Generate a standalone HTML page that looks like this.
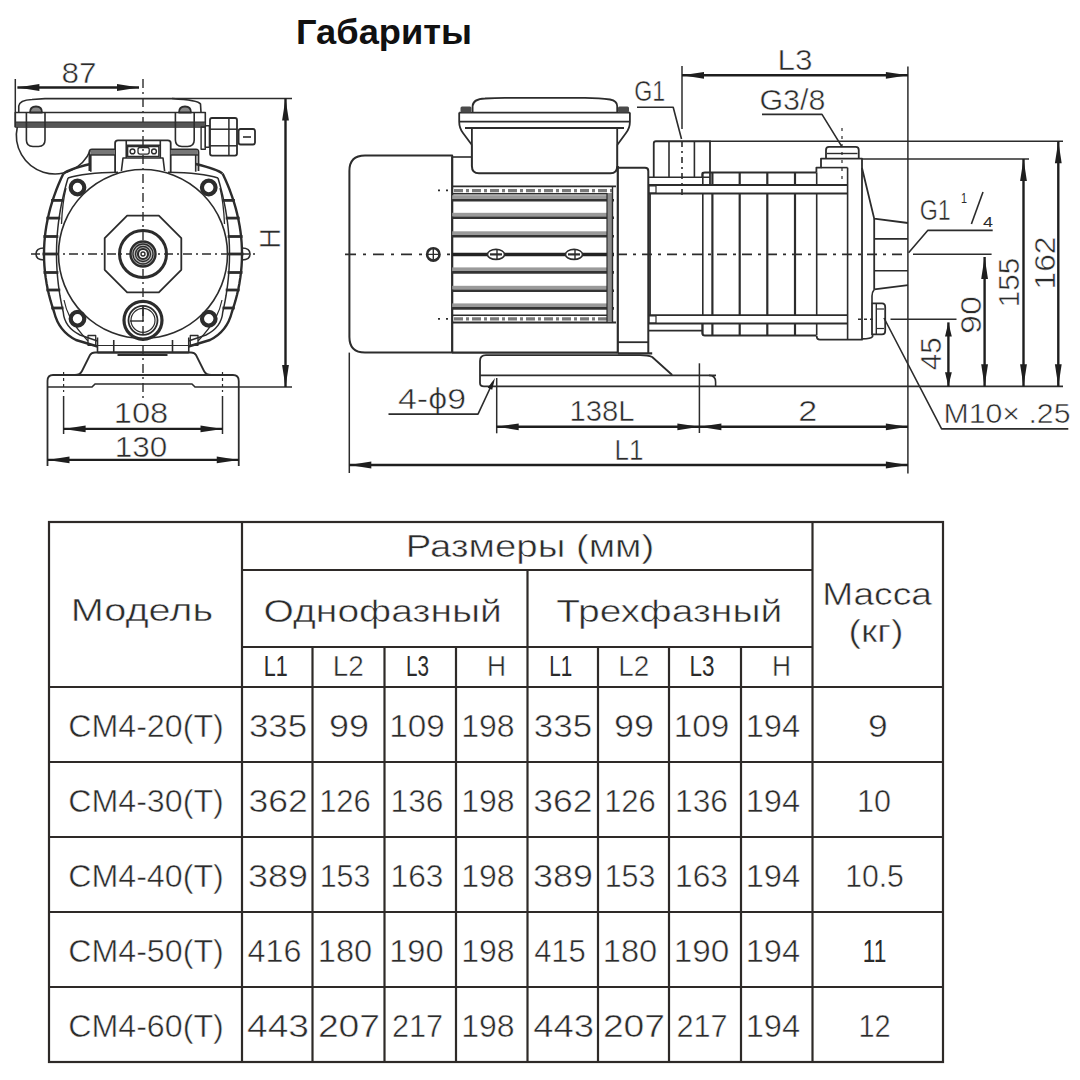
<!DOCTYPE html>
<html><head><meta charset="utf-8"><style>
html,body{margin:0;padding:0;background:#fff;}
svg{display:block;font-family:"Liberation Sans",sans-serif;}
text{stroke:#fff;stroke-width:0.5px;}
text.b{stroke:none;}
</style></head><body>
<svg width="1080" height="1080" viewBox="0 0 1080 1080">
<rect width="1080" height="1080" fill="#fff"/>
<text x="384" y="43.8" font-size="35" text-anchor="middle" fill="#111" font-weight="bold" textLength="176" lengthAdjust="spacingAndGlyphs" class="b">Габариты</text>
<rect x="49" y="522" width="894" height="540" rx="0" stroke="#2e2a28" stroke-width="2.2" fill="none"/>
<line x1="49" y1="762" x2="943" y2="762" stroke="#2e2a28" stroke-width="2.2" />
<line x1="49" y1="837" x2="943" y2="837" stroke="#2e2a28" stroke-width="2.2" />
<line x1="49" y1="912" x2="943" y2="912" stroke="#2e2a28" stroke-width="2.2" />
<line x1="49" y1="987" x2="943" y2="987" stroke="#2e2a28" stroke-width="2.2" />
<line x1="49" y1="687" x2="943" y2="687" stroke="#2e2a28" stroke-width="2.2" />
<line x1="242" y1="570" x2="812.5" y2="570" stroke="#2e2a28" stroke-width="2.2" />
<line x1="242" y1="647" x2="812.5" y2="647" stroke="#2e2a28" stroke-width="2.2" />
<line x1="242" y1="522" x2="242" y2="1062" stroke="#2e2a28" stroke-width="2.2" />
<line x1="812.5" y1="522" x2="812.5" y2="1062" stroke="#2e2a28" stroke-width="2.2" />
<line x1="527.5" y1="570" x2="527.5" y2="1062" stroke="#2e2a28" stroke-width="2.2" />
<line x1="312.5" y1="647" x2="312.5" y2="1062" stroke="#2e2a28" stroke-width="2.2" />
<line x1="384.5" y1="647" x2="384.5" y2="1062" stroke="#2e2a28" stroke-width="2.2" />
<line x1="456" y1="647" x2="456" y2="1062" stroke="#2e2a28" stroke-width="2.2" />
<line x1="598" y1="647" x2="598" y2="1062" stroke="#2e2a28" stroke-width="2.2" />
<line x1="669" y1="647" x2="669" y2="1062" stroke="#2e2a28" stroke-width="2.2" />
<line x1="741" y1="647" x2="741" y2="1062" stroke="#2e2a28" stroke-width="2.2" />
<text x="530" y="556.6" font-size="30.5" text-anchor="middle" fill="#2b2b2b" font-weight="normal" textLength="248.5" lengthAdjust="spacingAndGlyphs" >Размеры (мм)</text>
<text x="142" y="621.3" font-size="30.5" text-anchor="middle" fill="#2b2b2b" font-weight="normal" textLength="142.4" lengthAdjust="spacingAndGlyphs" >Модель</text>
<text x="382.7" y="621.5" font-size="30.5" text-anchor="middle" fill="#2b2b2b" font-weight="normal" textLength="238.4" lengthAdjust="spacingAndGlyphs" >Однофазный</text>
<text x="669.3" y="621.5" font-size="30.5" text-anchor="middle" fill="#2b2b2b" font-weight="normal" textLength="226" lengthAdjust="spacingAndGlyphs" >Трехфазный</text>
<text x="877" y="605" font-size="30.5" text-anchor="middle" fill="#2b2b2b" font-weight="normal" textLength="109.7" lengthAdjust="spacingAndGlyphs" >Масса</text>
<text x="876" y="641.5" font-size="30.5" text-anchor="middle" fill="#2b2b2b" font-weight="normal" textLength="55" lengthAdjust="spacingAndGlyphs" >(кг)</text>
<text x="275.7" y="676.1" font-size="29.5" text-anchor="middle" fill="#2b2b2b" font-weight="normal" textLength="24" lengthAdjust="spacingAndGlyphs" class="b">L1</text>
<text x="348.3" y="676.1" font-size="29.5" text-anchor="middle" fill="#2b2b2b" font-weight="normal" textLength="31" lengthAdjust="spacingAndGlyphs" >L2</text>
<text x="417.5" y="676.1" font-size="29.5" text-anchor="middle" fill="#2b2b2b" font-weight="normal" textLength="23" lengthAdjust="spacingAndGlyphs" class="b">L3</text>
<text x="496.6" y="676.1" font-size="29.5" text-anchor="middle" fill="#2b2b2b" font-weight="normal" textLength="19" lengthAdjust="spacingAndGlyphs" >H</text>
<text x="560.7" y="676.1" font-size="29.5" text-anchor="middle" fill="#2b2b2b" font-weight="normal" textLength="23" lengthAdjust="spacingAndGlyphs" class="b">L1</text>
<text x="633.7" y="676.1" font-size="29.5" text-anchor="middle" fill="#2b2b2b" font-weight="normal" textLength="31" lengthAdjust="spacingAndGlyphs" >L2</text>
<text x="702" y="676.1" font-size="29.5" text-anchor="middle" fill="#2b2b2b" font-weight="normal" textLength="25" lengthAdjust="spacingAndGlyphs" class="b">L3</text>
<text x="781.6" y="676.1" font-size="29.5" text-anchor="middle" fill="#2b2b2b" font-weight="normal" textLength="19" lengthAdjust="spacingAndGlyphs" >H</text>
<text x="145.97" y="737.3" font-size="31" text-anchor="middle" fill="#2b2b2b" font-weight="normal" textLength="155.69" lengthAdjust="spacingAndGlyphs" >CM4-20(T)</text>
<text x="278.03" y="737.3" font-size="31" text-anchor="middle" fill="#2b2b2b" font-weight="normal" textLength="58.2" lengthAdjust="spacingAndGlyphs" >335</text>
<text x="349.0" y="737.3" font-size="31" text-anchor="middle" fill="#2b2b2b" font-weight="normal" textLength="40.05" lengthAdjust="spacingAndGlyphs" >99</text>
<text x="416.98" y="737.3" font-size="31" text-anchor="middle" fill="#2b2b2b" font-weight="normal" textLength="55.59" lengthAdjust="spacingAndGlyphs" >109</text>
<text x="487.98" y="737.3" font-size="31" text-anchor="middle" fill="#2b2b2b" font-weight="normal" textLength="53.39" lengthAdjust="spacingAndGlyphs" >198</text>
<text x="562.97" y="737.3" font-size="31" text-anchor="middle" fill="#2b2b2b" font-weight="normal" textLength="58.2" lengthAdjust="spacingAndGlyphs" >335</text>
<text x="634.0" y="737.3" font-size="31" text-anchor="middle" fill="#2b2b2b" font-weight="normal" textLength="40.05" lengthAdjust="spacingAndGlyphs" >99</text>
<text x="701.46" y="737.3" font-size="31" text-anchor="middle" fill="#2b2b2b" font-weight="normal" textLength="55.59" lengthAdjust="spacingAndGlyphs" >109</text>
<text x="772.96" y="737.3" font-size="31" text-anchor="middle" fill="#2b2b2b" font-weight="normal" textLength="54.49" lengthAdjust="spacingAndGlyphs" >194</text>
<text x="877.96" y="737.3" font-size="31" text-anchor="middle" fill="#2b2b2b" font-weight="normal" textLength="19.71" lengthAdjust="spacingAndGlyphs" >9</text>
<text x="145.97" y="812.3" font-size="31" text-anchor="middle" fill="#2b2b2b" font-weight="normal" textLength="155.69" lengthAdjust="spacingAndGlyphs" >CM4-30(T)</text>
<text x="278.04" y="812.3" font-size="31" text-anchor="middle" fill="#2b2b2b" font-weight="normal" textLength="59.28" lengthAdjust="spacingAndGlyphs" >362</text>
<text x="345.0" y="812.3" font-size="31" text-anchor="middle" fill="#2b2b2b" font-weight="normal" textLength="51.73" lengthAdjust="spacingAndGlyphs" >126</text>
<text x="416.99" y="812.3" font-size="31" text-anchor="middle" fill="#2b2b2b" font-weight="normal" textLength="52.84" lengthAdjust="spacingAndGlyphs" >136</text>
<text x="487.98" y="812.3" font-size="31" text-anchor="middle" fill="#2b2b2b" font-weight="normal" textLength="53.39" lengthAdjust="spacingAndGlyphs" >198</text>
<text x="562.96" y="812.3" font-size="31" text-anchor="middle" fill="#2b2b2b" font-weight="normal" textLength="59.28" lengthAdjust="spacingAndGlyphs" >362</text>
<text x="630.0" y="812.3" font-size="31" text-anchor="middle" fill="#2b2b2b" font-weight="normal" textLength="51.73" lengthAdjust="spacingAndGlyphs" >126</text>
<text x="701.49" y="812.3" font-size="31" text-anchor="middle" fill="#2b2b2b" font-weight="normal" textLength="52.84" lengthAdjust="spacingAndGlyphs" >136</text>
<text x="772.96" y="812.3" font-size="31" text-anchor="middle" fill="#2b2b2b" font-weight="normal" textLength="54.49" lengthAdjust="spacingAndGlyphs" >194</text>
<text x="874.01" y="812.3" font-size="31" text-anchor="middle" fill="#2b2b2b" font-weight="normal" textLength="33.93" lengthAdjust="spacingAndGlyphs" >10</text>
<text x="145.97" y="887.3" font-size="31" text-anchor="middle" fill="#2b2b2b" font-weight="normal" textLength="155.69" lengthAdjust="spacingAndGlyphs" >CM4-40(T)</text>
<text x="278.04" y="887.3" font-size="31" text-anchor="middle" fill="#2b2b2b" font-weight="normal" textLength="59.82" lengthAdjust="spacingAndGlyphs" >389</text>
<text x="345.01" y="887.3" font-size="31" text-anchor="middle" fill="#2b2b2b" font-weight="normal" textLength="50.66" lengthAdjust="spacingAndGlyphs" >153</text>
<text x="416.99" y="887.3" font-size="31" text-anchor="middle" fill="#2b2b2b" font-weight="normal" textLength="52.84" lengthAdjust="spacingAndGlyphs" >163</text>
<text x="487.98" y="887.3" font-size="31" text-anchor="middle" fill="#2b2b2b" font-weight="normal" textLength="53.39" lengthAdjust="spacingAndGlyphs" >198</text>
<text x="562.96" y="887.3" font-size="31" text-anchor="middle" fill="#2b2b2b" font-weight="normal" textLength="59.82" lengthAdjust="spacingAndGlyphs" >389</text>
<text x="630.01" y="887.3" font-size="31" text-anchor="middle" fill="#2b2b2b" font-weight="normal" textLength="50.66" lengthAdjust="spacingAndGlyphs" >153</text>
<text x="701.49" y="887.3" font-size="31" text-anchor="middle" fill="#2b2b2b" font-weight="normal" textLength="52.84" lengthAdjust="spacingAndGlyphs" >163</text>
<text x="772.96" y="887.3" font-size="31" text-anchor="middle" fill="#2b2b2b" font-weight="normal" textLength="54.49" lengthAdjust="spacingAndGlyphs" >194</text>
<text x="874.51" y="887.3" font-size="31" text-anchor="middle" fill="#2b2b2b" font-weight="normal" textLength="58.73" lengthAdjust="spacingAndGlyphs" >10.5</text>
<text x="145.97" y="962.3" font-size="31" text-anchor="middle" fill="#2b2b2b" font-weight="normal" textLength="155.69" lengthAdjust="spacingAndGlyphs" >CM4-50(T)</text>
<text x="274.51" y="962.3" font-size="31" text-anchor="middle" fill="#2b2b2b" font-weight="normal" textLength="53.89" lengthAdjust="spacingAndGlyphs" >416</text>
<text x="344.97" y="962.3" font-size="31" text-anchor="middle" fill="#2b2b2b" font-weight="normal" textLength="54.43" lengthAdjust="spacingAndGlyphs" >180</text>
<text x="416.46" y="962.3" font-size="31" text-anchor="middle" fill="#2b2b2b" font-weight="normal" textLength="54.43" lengthAdjust="spacingAndGlyphs" >190</text>
<text x="487.98" y="962.3" font-size="31" text-anchor="middle" fill="#2b2b2b" font-weight="normal" textLength="53.39" lengthAdjust="spacingAndGlyphs" >198</text>
<text x="560.0" y="962.3" font-size="31" text-anchor="middle" fill="#2b2b2b" font-weight="normal" textLength="51.73" lengthAdjust="spacingAndGlyphs" >415</text>
<text x="629.97" y="962.3" font-size="31" text-anchor="middle" fill="#2b2b2b" font-weight="normal" textLength="54.43" lengthAdjust="spacingAndGlyphs" >180</text>
<text x="701.46" y="962.3" font-size="31" text-anchor="middle" fill="#2b2b2b" font-weight="normal" textLength="55.59" lengthAdjust="spacingAndGlyphs" >190</text>
<text x="772.96" y="962.3" font-size="31" text-anchor="middle" fill="#2b2b2b" font-weight="normal" textLength="54.49" lengthAdjust="spacingAndGlyphs" >194</text>
<text x="874.57" y="962.3" font-size="31" text-anchor="middle" fill="#2b2b2b" font-weight="normal" textLength="23.57" lengthAdjust="spacingAndGlyphs" class="b">11</text>
<text x="145.97" y="1037.3" font-size="31" text-anchor="middle" fill="#2b2b2b" font-weight="normal" textLength="155.69" lengthAdjust="spacingAndGlyphs" >CM4-60(T)</text>
<text x="278.05" y="1037.3" font-size="31" text-anchor="middle" fill="#2b2b2b" font-weight="normal" textLength="61.97" lengthAdjust="spacingAndGlyphs" >443</text>
<text x="349.0" y="1037.3" font-size="31" text-anchor="middle" fill="#2b2b2b" font-weight="normal" textLength="62.19" lengthAdjust="spacingAndGlyphs" >207</text>
<text x="417.5" y="1037.3" font-size="31" text-anchor="middle" fill="#2b2b2b" font-weight="normal" textLength="51.2" lengthAdjust="spacingAndGlyphs" >217</text>
<text x="487.98" y="1037.3" font-size="31" text-anchor="middle" fill="#2b2b2b" font-weight="normal" textLength="53.39" lengthAdjust="spacingAndGlyphs" >198</text>
<text x="563.54" y="1037.3" font-size="31" text-anchor="middle" fill="#2b2b2b" font-weight="normal" textLength="60.71" lengthAdjust="spacingAndGlyphs" >443</text>
<text x="634.0" y="1037.3" font-size="31" text-anchor="middle" fill="#2b2b2b" font-weight="normal" textLength="62.19" lengthAdjust="spacingAndGlyphs" >207</text>
<text x="702.0" y="1037.3" font-size="31" text-anchor="middle" fill="#2b2b2b" font-weight="normal" textLength="51.2" lengthAdjust="spacingAndGlyphs" >217</text>
<text x="772.96" y="1037.3" font-size="31" text-anchor="middle" fill="#2b2b2b" font-weight="normal" textLength="54.49" lengthAdjust="spacingAndGlyphs" >194</text>
<text x="874.52" y="1037.3" font-size="31" text-anchor="middle" fill="#2b2b2b" font-weight="normal" textLength="32.19" lengthAdjust="spacingAndGlyphs" >12</text>
<g stroke-linecap="butt" stroke-linejoin="round">
<line x1="15.3" y1="79" x2="15.3" y2="127" stroke="#2c2c2c" stroke-width="1.5" />
<line x1="17.4" y1="87.5" x2="139" y2="87.5" stroke="#1e1e1e" stroke-width="2.4" />
<path d="M17.4,87.5 L39.40,84.10 L39.40,90.90 Z" fill="#1e1e1e"/>
<path d="M139,87.5 L117.00,90.90 L117.00,84.10 Z" fill="#1e1e1e"/>
<text x="79" y="82.6" font-size="29" text-anchor="middle" fill="#2b2b2b" font-weight="normal" textLength="35" lengthAdjust="spacingAndGlyphs" >87</text>
<line x1="143" y1="79" x2="143" y2="398" stroke="#2c2c2c" stroke-width="1.4" stroke-dasharray="9 4 2 4"/>
<line x1="31" y1="254" x2="257" y2="254" stroke="#2c2c2c" stroke-width="1.4" stroke-dasharray="9 4 2 4"/>
<path d="M18.75,112.5 V106 Q19.5,100 32,99.5 L45,98.6 H172.6 Q198,100 200.5,104 L201,112.5" stroke="#2c2c2c" stroke-width="1.6" fill="none" />
<line x1="172" y1="98.6" x2="292" y2="98.6" stroke="#2c2c2c" stroke-width="1.5" />
<rect x="15.3" y="112.5" width="190" height="14.5" rx="0" stroke="#2c2c2c" stroke-width="1.6" fill="none"/>
<line x1="15.3" y1="122.2" x2="205.3" y2="122.2" stroke="#2c2c2c" stroke-width="1.6" />
<rect x="16" y="122.5" width="189" height="4.5" fill="#555"/>
<path d="M30,112.5 Q30,106.5 36,106.5 Q42,106.5 42,112.5 Z" stroke="#2c2c2c" stroke-width="1.8" fill="#888" />
<path d="M179,112.5 Q179,106.5 185,106.5 Q191,106.5 191,112.5 Z" stroke="#2c2c2c" stroke-width="1.8" fill="#888" />
<path d="M26.4,112.5 V140 Q26.4,146.5 33,146.5 H38.5 Q45,146.5 45,140 V112.5" stroke="#2c2c2c" stroke-width="1.6" fill="none" />
<path d="M175.4,112.5 V140 Q175.4,146.5 182,146.5 H187.6 Q194.2,146.5 194.2,140 V112.5" stroke="#2c2c2c" stroke-width="1.6" fill="none" />
<path d="M17.3,127 A38.5,38.5 0 0 0 90.5,150" stroke="#2c2c2c" stroke-width="1.6" fill="none" />
<rect x="201.1" y="127" width="4.2" height="22.3" rx="0" stroke="#2c2c2c" stroke-width="1.4" fill="none"/>
<rect x="205.3" y="125.7" width="4.1" height="21.5" rx="0" stroke="#2c2c2c" stroke-width="1.4" fill="none"/>
<rect x="210" y="118" width="27" height="37.6" rx="2" stroke="#2c2c2c" stroke-width="1.8" fill="none"/>
<line x1="210" y1="129.2" x2="237" y2="129.2" stroke="#2c2c2c" stroke-width="1.5" />
<line x1="210" y1="145.8" x2="237" y2="145.8" stroke="#2c2c2c" stroke-width="1.5" />
<line x1="228.9" y1="118" x2="228.9" y2="155.6" stroke="#2c2c2c" stroke-width="1.5" />
<rect x="238.6" y="129" width="16.4" height="15.5" rx="2" stroke="#2c2c2c" stroke-width="1.8" fill="none"/>
<line x1="243" y1="137" x2="251" y2="137" stroke="#2c2c2c" stroke-width="1.6" />
<path d="M115.1,172 V143 Q115.1,140.4 118,140.4 H167.8 Q170.7,140.4 170.7,143 V172" stroke="#2c2c2c" stroke-width="1.8" fill="none" />
<line x1="126.25" y1="140.4" x2="126.25" y2="158" stroke="#2c2c2c" stroke-width="1.6" />
<line x1="160.3" y1="140.4" x2="160.3" y2="158" stroke="#2c2c2c" stroke-width="1.6" />
<path d="M121.4,171 L123,158 H163 L164.6,171" stroke="#2c2c2c" stroke-width="1.6" fill="none" />
<line x1="126.25" y1="145.3" x2="160.3" y2="145.3" stroke="#2c2c2c" stroke-width="1.5" />
<rect x="127.6" y="146.5" width="31.3" height="9.9" rx="0" stroke="#2c2c2c" stroke-width="1.5" fill="none"/>
<circle cx="132.5" cy="151.4" r="2.4" stroke="#2c2c2c" stroke-width="1.4" fill="none"/>
<circle cx="154" cy="151.4" r="2.4" stroke="#2c2c2c" stroke-width="1.4" fill="none"/>
<rect x="138" y="147.5" width="11.2" height="6.6" rx="2" stroke="#2c2c2c" stroke-width="1.3" fill="none"/>
<path d="M89.4,171 V152 Q89.4,149.4 92,149.4 H115.1" stroke="#2c2c2c" stroke-width="1.8" fill="none" />
<rect x="90.5" y="150" width="24.5" height="5" fill="#777"/>
<line x1="89.4" y1="155" x2="115.1" y2="155" stroke="#2c2c2c" stroke-width="1.4" />
<line x1="90.8" y1="155" x2="90.8" y2="171.7" stroke="#2c2c2c" stroke-width="1.6" />
<path d="M170.7,149.4 H196 Q198.5,149.4 198.5,152 V171" stroke="#2c2c2c" stroke-width="1.8" fill="none" />
<rect x="170.7" y="150" width="27" height="5" fill="#777"/>
<line x1="170.7" y1="155" x2="198.5" y2="155" stroke="#2c2c2c" stroke-width="1.4" />
<line x1="195.7" y1="155" x2="195.7" y2="171.7" stroke="#2c2c2c" stroke-width="1.6" />
<path d="M63.44,173.50 L60.75,179.27 L58.27,185.04 L55.98,190.81 L53.89,196.58 L52.00,202.35 L50.31,208.12 L48.83,213.90 L47.54,219.67 L46.45,225.44 L45.56,231.21 L44.87,236.98 L44.38,242.75 L44.09,248.52 L44.00,254.29 L44.11,260.06 L44.42,265.83 L44.93,271.60 L45.64,277.38 L46.55,283.15 L47.66,288.92 L48.97,294.69 L50.48,300.46 L52.18,306.23 L54.09,312.00 C57,324 64,334 76,340 L97.5,346.5" stroke="#2c2c2c" stroke-width="2.4" fill="none" />
<path d="M90.4,164 C78,167 68,169.5 63.7,173.5" stroke="#2c2c2c" stroke-width="2.4" fill="none" />
<path d="M68.05,178.00 L66.42,183.58 L64.91,189.17 L63.52,194.75 L62.26,200.33 L61.12,205.92 L60.11,211.50 L59.23,217.08 L58.46,222.67 L57.83,228.25 L57.31,233.83 L56.93,239.42 L56.66,245.00 L56.52,250.58 L56.51,256.17 L56.62,261.75 L56.86,267.33 L57.22,272.92 L57.70,278.50 L58.31,284.08 L59.04,289.67 L59.90,295.25 L60.89,300.83 L62.00,306.42 L63.23,312.00 C64,322 70,330 80,335 L97.5,341" stroke="#2c2c2c" stroke-width="1.5" fill="none" />
<path d="M68,178 C80,174 100,172.5 118,172.2" stroke="#2c2c2c" stroke-width="1.5" fill="none" />
<path d="M66,188 C63,200 62,212 61.5,224" stroke="#2c2c2c" stroke-width="1.3" fill="none" />
<path d="M64,300 C66,310 70,322 88,341" stroke="#2c2c2c" stroke-width="1.2" fill="none" />
<line x1="51.11888" y1="200.4" x2="63.44592" y2="200.4" stroke="#2c2c2c" stroke-width="2.8" />
<line x1="46.36643" y1="218.1" x2="60.277620000000006" y2="218.1" stroke="#2c2c2c" stroke-width="2.8" />
<line x1="43.41875" y1="236.5" x2="58.3125" y2="236.5" stroke="#2c2c2c" stroke-width="2.8" />
<line x1="42.5" y1="254" x2="57.7" y2="254" stroke="#2c2c2c" stroke-width="2.8" />
<line x1="43.52675" y1="272.5" x2="58.3845" y2="272.5" stroke="#2c2c2c" stroke-width="2.8" />
<line x1="46.388" y1="290" x2="60.292" y2="290" stroke="#2c2c2c" stroke-width="2.8" />
<line x1="51.248" y1="308" x2="63.532000000000004" y2="308" stroke="#2c2c2c" stroke-width="2.8" />
<path d="M222.56,173.50 L225.25,179.27 L227.73,185.04 L230.02,190.81 L232.11,196.58 L234.00,202.35 L235.69,208.12 L237.17,213.90 L238.46,219.67 L239.55,225.44 L240.44,231.21 L241.13,236.98 L241.62,242.75 L241.91,248.52 L242.00,254.29 L241.89,260.06 L241.58,265.83 L241.07,271.60 L240.36,277.38 L239.45,283.15 L238.34,288.92 L237.03,294.69 L235.52,300.46 L233.82,306.23 L231.91,312.00 C229,324 222,334 210,340 L188.5,346.5" stroke="#2c2c2c" stroke-width="2.4" fill="none" />
<path d="M195.6,164 C208,167 218,169.5 222.3,173.5" stroke="#2c2c2c" stroke-width="2.4" fill="none" />
<path d="M217.95,178.00 L219.58,183.58 L221.09,189.17 L222.48,194.75 L223.74,200.33 L224.88,205.92 L225.89,211.50 L226.77,217.08 L227.54,222.67 L228.17,228.25 L228.69,233.83 L229.07,239.42 L229.34,245.00 L229.48,250.58 L229.49,256.17 L229.38,261.75 L229.14,267.33 L228.78,272.92 L228.30,278.50 L227.69,284.08 L226.96,289.67 L226.10,295.25 L225.11,300.83 L224.00,306.42 L222.77,312.00 C222,322 216,330 206,335 L188.5,341" stroke="#2c2c2c" stroke-width="1.5" fill="none" />
<path d="M218,178 C206,174 186,172.5 168,172.2" stroke="#2c2c2c" stroke-width="1.5" fill="none" />
<path d="M220,188 C223,200 224,212 224.5,224" stroke="#2c2c2c" stroke-width="1.3" fill="none" />
<path d="M222,300 C220,310 216,322 198,341" stroke="#2c2c2c" stroke-width="1.2" fill="none" />
<line x1="234.88112" y1="200.4" x2="222.55408" y2="200.4" stroke="#2c2c2c" stroke-width="2.8" />
<line x1="239.63357" y1="218.1" x2="225.72238" y2="218.1" stroke="#2c2c2c" stroke-width="2.8" />
<line x1="242.58125" y1="236.5" x2="227.6875" y2="236.5" stroke="#2c2c2c" stroke-width="2.8" />
<line x1="243.5" y1="254" x2="228.3" y2="254" stroke="#2c2c2c" stroke-width="2.8" />
<line x1="242.47325" y1="272.5" x2="227.6155" y2="272.5" stroke="#2c2c2c" stroke-width="2.8" />
<line x1="239.612" y1="290" x2="225.708" y2="290" stroke="#2c2c2c" stroke-width="2.8" />
<line x1="234.752" y1="308" x2="222.468" y2="308" stroke="#2c2c2c" stroke-width="2.8" />
<path d="M44,248 Q36,248 36,254 Q36,260 44,260" stroke="#2c2c2c" stroke-width="1.6" fill="none" />
<path d="M242,248 Q250,248 250,254 Q250,260 242,260" stroke="#2c2c2c" stroke-width="1.6" fill="none" />
<circle cx="143" cy="254" r="84.5" stroke="#2c2c2c" stroke-width="1.6" fill="none"/>
<circle cx="77.5" cy="187.5" r="6.8" stroke="#2c2c2c" stroke-width="4.2" fill="none"/>
<circle cx="208.75" cy="187.5" r="6.8" stroke="#2c2c2c" stroke-width="4.2" fill="none"/>
<circle cx="77.5" cy="318.75" r="6.8" stroke="#2c2c2c" stroke-width="4.2" fill="none"/>
<circle cx="208.75" cy="318.75" r="6.8" stroke="#2c2c2c" stroke-width="4.2" fill="none"/>
<path d="M181.30,269.86 L158.86,292.30 L127.14,292.30 L104.70,269.86 L104.70,238.14 L127.14,215.70 L158.86,215.70 L181.30,238.14 Z" stroke="#2c2c2c" stroke-width="1.8" fill="none" />
<circle cx="143" cy="254" r="23.5" stroke="#2c2c2c" stroke-width="3.0" fill="none"/>
<circle cx="143" cy="254" r="12.5" stroke="#2c2c2c" stroke-width="2.4" fill="#bdbdbd"/>
<circle cx="143" cy="254" r="10" stroke="#2c2c2c" stroke-width="1.3" fill="none"/>
<circle cx="143" cy="254" r="7.5" stroke="#2c2c2c" stroke-width="1.3" fill="none"/>
<circle cx="143" cy="254" r="5" stroke="#2c2c2c" stroke-width="2.2" fill="#fff"/>
<circle cx="143" cy="254" r="2" stroke="#2c2c2c" stroke-width="1.4" fill="none"/>
<circle cx="143" cy="320.3" r="19" stroke="#2c2c2c" stroke-width="3.2" fill="none"/>
<circle cx="143" cy="320.3" r="14.5" stroke="#2c2c2c" stroke-width="1.8" fill="none"/>
<circle cx="143" cy="320.3" r="12" stroke="#2c2c2c" stroke-width="1.2" fill="none"/>
<line x1="143" y1="306" x2="143" y2="321" stroke="#2c2c2c" stroke-width="1.4" />
<line x1="130" y1="321" x2="143" y2="321" stroke="#2c2c2c" stroke-width="1.4" />
<path d="M97.5,352.5 V337.5 M188.75,337.5 V352.5" stroke="#2c2c2c" stroke-width="1.6" fill="none" />
<line x1="97.5" y1="352.5" x2="188.75" y2="352.5" stroke="#2c2c2c" stroke-width="1.8" />
<line x1="113.75" y1="340" x2="113.75" y2="352.5" stroke="#2c2c2c" stroke-width="1.6" />
<line x1="172.5" y1="340" x2="172.5" y2="352.5" stroke="#2c2c2c" stroke-width="1.6" />
<line x1="117.5" y1="355" x2="167.5" y2="355" stroke="#2c2c2c" stroke-width="2.2" />
<rect x="88" y="335.5" width="7.7" height="9.8" rx="0" stroke="#2c2c2c" stroke-width="1.3" fill="none"/>
<rect x="190.3" y="335.5" width="7.7" height="9.8" rx="0" stroke="#2c2c2c" stroke-width="1.3" fill="none"/>
<line x1="97.5" y1="345.5" x2="188.75" y2="345.5" stroke="#2c2c2c" stroke-width="1.2" />
<path d="M75,375 Q80,375 82,371 L90,355 Q91.5,352.5 95,352.5 H191 Q194.5,352.5 196,355 L204,371 Q206,375 211.25,375" stroke="#2c2c2c" stroke-width="1.8" fill="none" />
<path d="M47.5,466 V381 Q47.5,375 53,375 H233 Q238.75,375 238.75,381 V466" stroke="#2c2c2c" stroke-width="1.8" fill="none" />
<path d="M47.5,387 H92 L95,384 H192 L195,387 H238.75" stroke="#2c2c2c" stroke-width="1.6" fill="none" />
<line x1="238.75" y1="387" x2="292" y2="387" stroke="#2c2c2c" stroke-width="1.5" />
<line x1="285.5" y1="98.6" x2="285.5" y2="387" stroke="#1e1e1e" stroke-width="2.4" />
<path d="M285.5,98.6 L288.90,120.60 L282.10,120.60 Z" fill="#1e1e1e"/>
<path d="M285.5,387 L282.10,365.00 L288.90,365.00 Z" fill="#1e1e1e"/>
<text x="0" y="0" font-size="29" text-anchor="middle" fill="#2b2b2b" transform="translate(280,238.5) rotate(-90)" textLength="21" lengthAdjust="spacingAndGlyphs">H</text>
<line x1="63.6" y1="396" x2="63.6" y2="434" stroke="#2c2c2c" stroke-width="1.5" />
<line x1="222.5" y1="396" x2="222.5" y2="434" stroke="#2c2c2c" stroke-width="1.5" />
<line x1="63.6" y1="372" x2="63.6" y2="392" stroke="#2c2c2c" stroke-width="1.2" stroke-dasharray="3 3"/>
<line x1="222.5" y1="372" x2="222.5" y2="392" stroke="#2c2c2c" stroke-width="1.2" stroke-dasharray="3 3"/>
<line x1="63.6" y1="428.9" x2="222.5" y2="428.9" stroke="#1e1e1e" stroke-width="2.4" />
<path d="M63.6,428.9 L85.60,425.50 L85.60,432.30 Z" fill="#1e1e1e"/>
<path d="M222.5,428.9 L200.50,432.30 L200.50,425.50 Z" fill="#1e1e1e"/>
<text x="141" y="422.8" font-size="29" text-anchor="middle" fill="#2b2b2b" font-weight="normal" textLength="54.5" lengthAdjust="spacingAndGlyphs" >108</text>
<line x1="47.5" y1="459.9" x2="238.75" y2="459.9" stroke="#1e1e1e" stroke-width="2.4" />
<path d="M47.5,459.9 L69.50,456.50 L69.50,463.30 Z" fill="#1e1e1e"/>
<path d="M238.75,459.9 L216.75,463.30 L216.75,456.50 Z" fill="#1e1e1e"/>
<text x="141" y="457.4" font-size="29" text-anchor="middle" fill="#2b2b2b" font-weight="normal" textLength="52.5" lengthAdjust="spacingAndGlyphs" >130</text>
<path d="M452.2,155.6 H365 Q349.4,155.6 349.4,171 V337 Q349.4,352.6 365,352.6 H452.2 Z" stroke="#2c2c2c" stroke-width="2.0" fill="none" />
<line x1="349.3" y1="352.6" x2="349.3" y2="473" stroke="#2c2c2c" stroke-width="1.5" />
<line x1="452.2" y1="157" x2="471.9" y2="157" stroke="#2c2c2c" stroke-width="1.6" />
<line x1="452.2" y1="352.6" x2="617.8" y2="352.6" stroke="#2c2c2c" stroke-width="2.4" />
<line x1="452.2" y1="157" x2="452.2" y2="352.6" stroke="#2c2c2c" stroke-width="1.8" />
<line x1="452.2" y1="186.3" x2="616" y2="186.3" stroke="#2c2c2c" stroke-width="1.8" />
<line x1="438" y1="190.4" x2="450" y2="190.4" stroke="#2c2c2c" stroke-width="1.8" stroke-dasharray="2 6"/>
<line x1="454" y1="190.6" x2="612" y2="190.6" stroke="#7a7a7a" stroke-width="3.4" stroke-dasharray="9 3 3 3"/>
<line x1="452.2" y1="193.8" x2="612" y2="193.8" stroke="#2c2c2c" stroke-width="1.4" />
<line x1="452.2" y1="315.2" x2="612" y2="315.2" stroke="#2c2c2c" stroke-width="1.4" />
<line x1="438" y1="318.9" x2="450" y2="318.9" stroke="#2c2c2c" stroke-width="1.8" stroke-dasharray="2 6"/>
<line x1="454" y1="318.9" x2="612" y2="318.9" stroke="#7a7a7a" stroke-width="3.4" stroke-dasharray="9 3 3 3"/>
<line x1="452.2" y1="322.5" x2="616" y2="322.5" stroke="#2c2c2c" stroke-width="1.8" />
<rect x="452.2" y="195.2" width="158" height="3.8" fill="#9a9a9a"/>
<line x1="452.2" y1="200.2" x2="614" y2="200.2" stroke="#333" stroke-width="2.6" />
<rect x="452.2" y="212.8" width="158" height="3.8" fill="#9a9a9a"/>
<line x1="452.2" y1="217.8" x2="614" y2="217.8" stroke="#333" stroke-width="2.6" />
<rect x="452.2" y="231.3" width="158" height="3.8" fill="#9a9a9a"/>
<line x1="452.2" y1="236.3" x2="614" y2="236.3" stroke="#333" stroke-width="2.6" />
<rect x="452.2" y="267.4" width="158" height="3.8" fill="#9a9a9a"/>
<line x1="452.2" y1="272.4" x2="614" y2="272.4" stroke="#333" stroke-width="2.6" />
<rect x="452.2" y="285.8" width="158" height="3.8" fill="#9a9a9a"/>
<line x1="452.2" y1="290.8" x2="614" y2="290.8" stroke="#333" stroke-width="2.6" />
<rect x="452.2" y="303.4" width="158" height="3.8" fill="#9a9a9a"/>
<line x1="452.2" y1="308.4" x2="614" y2="308.4" stroke="#333" stroke-width="2.6" />
<line x1="452.2" y1="254.5" x2="614" y2="254.5" stroke="#222" stroke-width="3.4" />
<rect x="607" y="193" width="5" height="129" fill="#8a8a8a"/>
<line x1="607" y1="193" x2="607" y2="322" stroke="#2c2c2c" stroke-width="1.2" />
<line x1="612.5" y1="186" x2="612.5" y2="322.5" stroke="#2c2c2c" stroke-width="1.4" />
<line x1="345" y1="254.4" x2="452" y2="254.4" stroke="#2c2c2c" stroke-width="1.8" stroke-dasharray="11 7 3 7"/>
<line x1="617" y1="254.4" x2="908" y2="254.4" stroke="#2c2c2c" stroke-width="1.6" stroke-dasharray="10 6 3 6"/>
<circle cx="433.3" cy="254.4" r="6.2" stroke="#2c2c2c" stroke-width="2.6" fill="#fff"/>
<path d="M428,254.4 H438.6 M433.3,249 V259.8" stroke="#2c2c2c" stroke-width="1.4" fill="none" />
<ellipse cx="496" cy="254.4" rx="8.5" ry="5" stroke="#2c2c2c" stroke-width="1.6" fill="#fff"/>
<line x1="490" y1="254.4" x2="502" y2="254.4" stroke="#2c2c2c" stroke-width="2.2" />
<line x1="497" y1="249.5" x2="497" y2="259.3" stroke="#2c2c2c" stroke-width="1.4" />
<ellipse cx="574" cy="254.4" rx="8.5" ry="5" stroke="#2c2c2c" stroke-width="1.6" fill="#fff"/>
<line x1="568" y1="254.4" x2="580" y2="254.4" stroke="#2c2c2c" stroke-width="2.2" />
<line x1="575" y1="249.5" x2="575" y2="259.3" stroke="#2c2c2c" stroke-width="1.4" />
<path d="M471.9,145 V166 Q471.9,173.3 479,173.3 H610.5 Q617.2,173.3 617.2,166 V145" stroke="#2c2c2c" stroke-width="2.0" fill="none" />
<path d="M459.2,112.6 V121.7 Q459.2,128 463,133 L471.9,145" stroke="#2c2c2c" stroke-width="1.8" fill="none" />
<path d="M629.9,112.6 V121.7 Q629.9,128 626,133 L617.2,145" stroke="#2c2c2c" stroke-width="1.8" fill="none" />
<line x1="459.2" y1="112.6" x2="629.9" y2="112.6" stroke="#2c2c2c" stroke-width="1.8" />
<line x1="459.2" y1="121.7" x2="629.9" y2="121.7" stroke="#2c2c2c" stroke-width="1.8" />
<line x1="465" y1="128" x2="624" y2="128" stroke="#2c2c2c" stroke-width="1.8" />
<line x1="471.9" y1="128" x2="471.9" y2="145" stroke="#2c2c2c" stroke-width="1.8" />
<line x1="617.2" y1="128" x2="617.2" y2="145" stroke="#2c2c2c" stroke-width="1.8" />
<path d="M472.6,112.6 V106 Q473,99 485,98.5 Q495,97.8 505,97.8 H585 Q600,97.8 610,99.5 Q617.2,101 617.2,106 V112.6" stroke="#2c2c2c" stroke-width="1.8" fill="none" />
<rect x="460.5" y="106.5" width="11" height="6" rx="1.5" fill="#4a4a4a"/>
<rect x="618" y="106.5" width="11" height="6" rx="1.5" fill="#4a4a4a"/>
<path d="M617.8,166 V353.3" stroke="#2c2c2c" stroke-width="2.2" fill="none" />
<path d="M617.8,167.8 H645 Q648.3,167.8 648.3,171 V353.3" stroke="#2c2c2c" stroke-width="2.0" fill="none" />
<line x1="617.8" y1="342.2" x2="648.3" y2="342.2" stroke="#2c2c2c" stroke-width="1.8" />
<line x1="617.8" y1="353.3" x2="652.2" y2="353.3" stroke="#2c2c2c" stroke-width="2.2" />
<path d="M653.75,177.2 V143.5 Q653.75,141.25 656,141.25 H710 V185" stroke="#2c2c2c" stroke-width="1.8" fill="none" />
<line x1="669" y1="141.25" x2="669" y2="177.2" stroke="#2c2c2c" stroke-width="1.6" />
<line x1="694.4" y1="141.25" x2="694.4" y2="177.2" stroke="#2c2c2c" stroke-width="1.6" />
<line x1="682" y1="141" x2="682" y2="196" stroke="#2c2c2c" stroke-width="1.6" stroke-dasharray="6 4 2 4"/>
<line x1="648.3" y1="185" x2="848" y2="185" stroke="#2c2c2c" stroke-width="1.8" />
<line x1="648.3" y1="193.5" x2="848" y2="193.5" stroke="#2c2c2c" stroke-width="1.8" />
<line x1="648.3" y1="315.2" x2="848" y2="315.2" stroke="#2c2c2c" stroke-width="1.8" />
<line x1="648.3" y1="323.5" x2="848" y2="323.5" stroke="#2c2c2c" stroke-width="1.8" />
<line x1="648.3" y1="177.2" x2="710" y2="177.2" stroke="#2c2c2c" stroke-width="1.6" />
<line x1="648.3" y1="330.6" x2="702" y2="330.6" stroke="#2c2c2c" stroke-width="1.6" />
<rect x="649" y="186" width="7" height="7" rx="0" stroke="#2c2c2c" stroke-width="1.2" fill="none"/>
<rect x="649" y="316" width="7" height="7" rx="0" stroke="#2c2c2c" stroke-width="1.2" fill="none"/>
<line x1="650" y1="193.5" x2="650" y2="315.2" stroke="#2c2c2c" stroke-width="1.8" />
<path d="M702.2,177.2 V174 Q702.2,172.5 705,172.5 H816.4" stroke="#2c2c2c" stroke-width="1.8" fill="none" />
<path d="M702.2,323.5 V333 Q702.2,335.5 705,335.5 H816.4" stroke="#2c2c2c" stroke-width="1.8" fill="none" />
<line x1="702.8" y1="172.5" x2="702.8" y2="185" stroke="#2c2c2c" stroke-width="1.6" />
<line x1="702.8" y1="193.5" x2="702.8" y2="315.2" stroke="#2c2c2c" stroke-width="1.6" />
<line x1="702.8" y1="323.5" x2="702.8" y2="335.5" stroke="#2c2c2c" stroke-width="1.6" />
<line x1="712.4" y1="172.5" x2="712.4" y2="185" stroke="#2c2c2c" stroke-width="2.2" />
<line x1="712.4" y1="193.5" x2="712.4" y2="315.2" stroke="#2c2c2c" stroke-width="2.2" />
<line x1="712.4" y1="323.5" x2="712.4" y2="335.5" stroke="#2c2c2c" stroke-width="2.2" />
<line x1="739.7" y1="172.5" x2="739.7" y2="185" stroke="#2c2c2c" stroke-width="2.2" />
<line x1="739.7" y1="193.5" x2="739.7" y2="315.2" stroke="#2c2c2c" stroke-width="2.2" />
<line x1="739.7" y1="323.5" x2="739.7" y2="335.5" stroke="#2c2c2c" stroke-width="2.2" />
<line x1="767.3" y1="172.5" x2="767.3" y2="185" stroke="#2c2c2c" stroke-width="2.2" />
<line x1="767.3" y1="193.5" x2="767.3" y2="315.2" stroke="#2c2c2c" stroke-width="2.2" />
<line x1="767.3" y1="323.5" x2="767.3" y2="335.5" stroke="#2c2c2c" stroke-width="2.2" />
<line x1="795" y1="172.5" x2="795" y2="185" stroke="#2c2c2c" stroke-width="2.2" />
<line x1="795" y1="193.5" x2="795" y2="315.2" stroke="#2c2c2c" stroke-width="2.2" />
<line x1="795" y1="323.5" x2="795" y2="335.5" stroke="#2c2c2c" stroke-width="2.2" />
<line x1="816.7" y1="172.5" x2="816.7" y2="185" stroke="#2c2c2c" stroke-width="1.6" />
<line x1="816.7" y1="193.5" x2="816.7" y2="315.2" stroke="#2c2c2c" stroke-width="1.6" />
<line x1="816.7" y1="323.5" x2="816.7" y2="335.5" stroke="#2c2c2c" stroke-width="1.6" />
<path d="M816.4,172.5 V167.6 Q816.4,167.6 821,167.6 V158.6 H862 V339.7 H820 Q816.7,339.7 816.7,336" stroke="#2c2c2c" stroke-width="1.8" fill="none" />
<line x1="847.6" y1="167.6" x2="847.6" y2="339.7" stroke="#2c2c2c" stroke-width="1.6" />
<line x1="821" y1="167.6" x2="847.6" y2="167.6" stroke="#2c2c2c" stroke-width="1.6" />
<path d="M826,158.6 V150 Q826,146.8 829,146.8 H855.7 Q858.75,146.8 858.75,150 V158.6" stroke="#2c2c2c" stroke-width="1.8" fill="none" />
<line x1="827" y1="153.5" x2="857.5" y2="153.5" stroke="#2c2c2c" stroke-width="1.4" />
<line x1="842" y1="128" x2="842" y2="180" stroke="#2c2c2c" stroke-width="1.2" stroke-dasharray="3 5"/>
<path d="M862,168 L874.2,218.6 L908,223" stroke="#2c2c2c" stroke-width="1.8" fill="none" />
<line x1="874.2" y1="218.6" x2="874.2" y2="289.4" stroke="#2c2c2c" stroke-width="1.8" />
<line x1="874.2" y1="238.9" x2="908" y2="238.9" stroke="#2c2c2c" stroke-width="1.6" />
<line x1="874.2" y1="270.8" x2="908" y2="270.8" stroke="#2c2c2c" stroke-width="1.6" />
<path d="M874.2,289.4 L908,285.1" stroke="#2c2c2c" stroke-width="1.8" fill="none" />
<path d="M874.2,289.4 Q872,292 872,296 V303.3" stroke="#2c2c2c" stroke-width="1.6" fill="none" />
<path d="M872,303.3 H882 Q885.2,303.3 885.2,307 V331 Q885.2,334.4 882,334.4 H872 Z" stroke="#2c2c2c" stroke-width="1.8" fill="none" />
<line x1="876.3" y1="303.3" x2="876.3" y2="334.4" stroke="#2c2c2c" stroke-width="1.4" />
<line x1="877" y1="309" x2="884" y2="309" stroke="#2c2c2c" stroke-width="1.2" />
<line x1="877" y1="328.5" x2="884" y2="328.5" stroke="#2c2c2c" stroke-width="1.2" />
<path d="M872.6,334.4 V336.5 Q871,338.9 862.2,338.9" stroke="#2c2c2c" stroke-width="1.6" fill="none" />
<line x1="858" y1="319.3" x2="874" y2="319.3" stroke="#2c2c2c" stroke-width="1.4" stroke-dasharray="3 3"/>
<path d="M480,383 V361 Q480,355.1 486,355.1 H640 Q648,355.1 652.2,357 L672.2,375" stroke="#2c2c2c" stroke-width="1.8" fill="none" />
<line x1="480" y1="375.4" x2="716" y2="375.4" stroke="#2c2c2c" stroke-width="1.8" />
<path d="M480,383 Q480,386.4 484,386.4 H1063" stroke="#2c2c2c" stroke-width="1.8" fill="none" />
<path d="M709,375.4 Q715.6,375.4 715.6,382 V386.4" stroke="#2c2c2c" stroke-width="1.6" fill="none" />
<line x1="682" y1="66" x2="682" y2="129" stroke="#2c2c2c" stroke-width="1.5" />
<line x1="907.9" y1="66.4" x2="907.9" y2="473.6" stroke="#2c2c2c" stroke-width="1.5" />
<line x1="682" y1="75.3" x2="907.9" y2="75.3" stroke="#1e1e1e" stroke-width="2.4" />
<path d="M682,75.3 L704.00,71.90 L704.00,78.70 Z" fill="#1e1e1e"/>
<path d="M907.9,75.3 L885.90,78.70 L885.90,71.90 Z" fill="#1e1e1e"/>
<text x="795" y="70" font-size="29" text-anchor="middle" fill="#2b2b2b" font-weight="normal" textLength="35" lengthAdjust="spacingAndGlyphs" >L3</text>
<text x="634.3" y="101" font-size="29" text-anchor="start" fill="#2b2b2b" font-weight="normal" textLength="31" lengthAdjust="spacingAndGlyphs" >G1</text>
<path d="M637,107.2 H673.2 L681.5,139" stroke="#2c2c2c" stroke-width="1.6" fill="none" />
<text x="759.4" y="110" font-size="29" text-anchor="start" fill="#2b2b2b" font-weight="normal" textLength="66" lengthAdjust="spacingAndGlyphs" >G3/8</text>
<path d="M762,114.4 H822 L842,146.8" stroke="#2c2c2c" stroke-width="1.6" fill="none" />
<line x1="710" y1="141.25" x2="1063" y2="141.25" stroke="#2c2c2c" stroke-width="1.6" />
<line x1="862" y1="159" x2="1029" y2="159" stroke="#2c2c2c" stroke-width="1.6" />
<line x1="913" y1="254.3" x2="991.6" y2="254.3" stroke="#2c2c2c" stroke-width="1.6" />
<line x1="890.5" y1="319.2" x2="956.5" y2="319.2" stroke="#2c2c2c" stroke-width="1.6" />
<line x1="1058.3" y1="141.3" x2="1058.3" y2="386.3" stroke="#1e1e1e" stroke-width="2.4" />
<path d="M1058.3,141.3 L1061.70,163.30 L1054.90,163.30 Z" fill="#1e1e1e"/>
<path d="M1058.3,386.3 L1054.90,364.30 L1061.70,364.30 Z" fill="#1e1e1e"/>
<line x1="1023.5" y1="159" x2="1023.5" y2="386.3" stroke="#1e1e1e" stroke-width="2.4" />
<path d="M1023.5,159 L1026.90,181.00 L1020.10,181.00 Z" fill="#1e1e1e"/>
<path d="M1023.5,386.3 L1020.10,364.30 L1026.90,364.30 Z" fill="#1e1e1e"/>
<line x1="984.6" y1="257" x2="984.6" y2="386.3" stroke="#1e1e1e" stroke-width="2.4" />
<path d="M984.6,257 L988.00,279.00 L981.20,279.00 Z" fill="#1e1e1e"/>
<path d="M984.6,386.3 L981.20,364.30 L988.00,364.30 Z" fill="#1e1e1e"/>
<line x1="948.4" y1="322.4" x2="948.4" y2="386.3" stroke="#1e1e1e" stroke-width="2.4" />
<path d="M948.4,322.4 L951.80,336.40 L945.00,336.40 Z" fill="#1e1e1e"/>
<path d="M948.4,386.3 L945.00,372.30 L951.80,372.30 Z" fill="#1e1e1e"/>
<text x="0" y="0" font-size="29" text-anchor="middle" fill="#2b2b2b" textLength="53" lengthAdjust="spacingAndGlyphs" transform="translate(1054.5,263) rotate(-90)">162</text>
<text x="0" y="0" font-size="29" text-anchor="middle" fill="#2b2b2b" textLength="49.5" lengthAdjust="spacingAndGlyphs" transform="translate(1018.5,282.5) rotate(-90)">155</text>
<text x="0" y="0" font-size="29" text-anchor="middle" fill="#2b2b2b" textLength="38" lengthAdjust="spacingAndGlyphs" transform="translate(981,315) rotate(-90)">90</text>
<text x="0" y="0" font-size="29" text-anchor="middle" fill="#2b2b2b" textLength="33" lengthAdjust="spacingAndGlyphs" transform="translate(940.5,353.8) rotate(-90)">45</text>
<text x="919.8" y="219.7" font-size="29" text-anchor="start" fill="#2b2b2b" font-weight="normal" textLength="31" lengthAdjust="spacingAndGlyphs" >G1</text>
<text x="961" y="202.7" font-size="15" text-anchor="start" fill="#2b2b2b" font-weight="normal" textLength="6" lengthAdjust="spacingAndGlyphs" class="b">1</text>
<line x1="983" y1="192" x2="971.4" y2="224" stroke="#2b2b2b" stroke-width="1.6" />
<text x="983" y="227.3" font-size="14" text-anchor="start" fill="#2b2b2b" font-weight="normal" textLength="10" lengthAdjust="spacingAndGlyphs" class="b">4</text>
<path d="M992.7,230.4 H927.7 L908.6,252.7" stroke="#2c2c2c" stroke-width="1.6" fill="none" />
<text x="943.5" y="422.5" font-size="27" text-anchor="start" fill="#2b2b2b" font-weight="normal" textLength="127" lengthAdjust="spacingAndGlyphs" >M10× .25</text>
<path d="M884,318 L941.6,428.9 H1068.3" stroke="#2c2c2c" stroke-width="1.6" fill="none" />
<line x1="496.7" y1="378" x2="496.7" y2="433.3" stroke="#2c2c2c" stroke-width="1.5" />
<line x1="699.4" y1="363.3" x2="699.4" y2="433" stroke="#2c2c2c" stroke-width="1.5" />
<line x1="496.7" y1="426.8" x2="699.4" y2="426.8" stroke="#1e1e1e" stroke-width="2.4" />
<path d="M496.7,426.8 L518.70,423.40 L518.70,430.20 Z" fill="#1e1e1e"/>
<path d="M699.4,426.8 L677.40,430.20 L677.40,423.40 Z" fill="#1e1e1e"/>
<line x1="699.4" y1="426.8" x2="907.9" y2="426.8" stroke="#1e1e1e" stroke-width="2.4" />
<path d="M699.4,426.8 L721.40,423.40 L721.40,430.20 Z" fill="#1e1e1e"/>
<path d="M907.9,426.8 L885.90,430.20 L885.90,423.40 Z" fill="#1e1e1e"/>
<text x="602" y="420.6" font-size="29" text-anchor="middle" fill="#2b2b2b" font-weight="normal" textLength="65" lengthAdjust="spacingAndGlyphs" >138L</text>
<text x="807.8" y="420.6" font-size="29" text-anchor="middle" fill="#2b2b2b" font-weight="normal" textLength="19" lengthAdjust="spacingAndGlyphs" >2</text>
<line x1="349.3" y1="465" x2="907.9" y2="465" stroke="#1e1e1e" stroke-width="2.4" />
<path d="M349.3,465 L371.30,461.60 L371.30,468.40 Z" fill="#1e1e1e"/>
<path d="M907.9,465 L885.90,468.40 L885.90,461.60 Z" fill="#1e1e1e"/>
<text x="629" y="460" font-size="29" text-anchor="middle" fill="#2b2b2b" font-weight="normal" textLength="29" lengthAdjust="spacingAndGlyphs" >L1</text>
<text x="398" y="408.8" font-size="29" text-anchor="start" fill="#2b2b2b" font-weight="normal" textLength="68" lengthAdjust="spacingAndGlyphs" >4-ϕ9</text>
<path d="M388.5,414.1 H478 L493,382" stroke="#2c2c2c" stroke-width="1.6" fill="none" />
<path d="M495,378 L492.21,389.85 L487.71,387.75 Z" fill="#1e1e1e"/>
</g>
</svg></body></html>
